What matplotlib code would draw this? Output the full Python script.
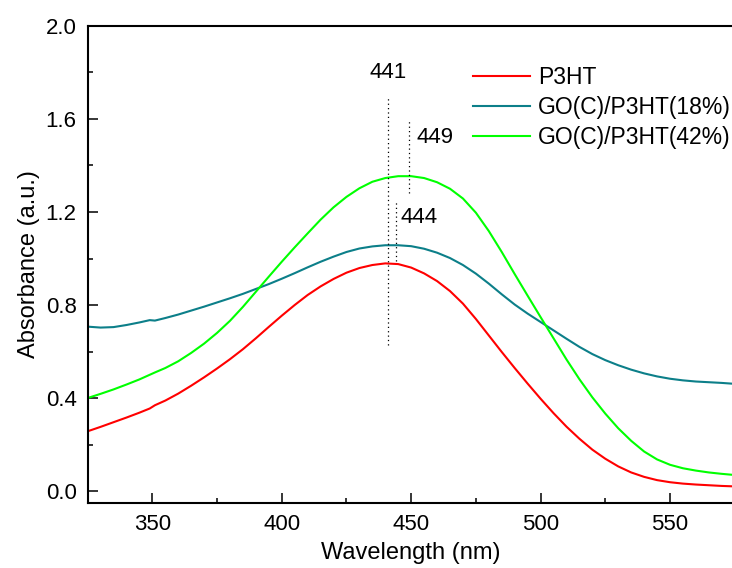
import numpy as np
import matplotlib.pyplot as plt

plt.rcParams['font.family'] = ['Liberation Sans', 'DejaVu Sans']

# Dane (co 5 nm, z malym skokiem przy 350 nm)
wavelength = [325, 330, 335, 340, 345, 349, 351, 355, 360, 365, 370, 375, 380, 385,
              390, 395, 400, 405, 410, 415, 420, 425, 430, 435, 440, 445, 450, 455,
              460, 465, 470, 475, 480, 485, 490, 495, 500, 505, 510, 515, 520, 525,
              530, 535, 540, 545, 550, 555, 560, 565, 570, 575]

p3ht = [0.257, 0.276, 0.296, 0.316, 0.337, 0.355, 0.369, 0.389, 0.419, 0.453, 0.489,
        0.527, 0.567, 0.610, 0.657, 0.706, 0.754, 0.800, 0.843, 0.880, 0.912, 0.939,
        0.959, 0.972, 0.979, 0.976, 0.961, 0.936, 0.903, 0.860, 0.806, 0.740, 0.669,
        0.598, 0.529, 0.462, 0.397, 0.335, 0.277, 0.225, 0.178, 0.139, 0.106, 0.080,
        0.061, 0.047, 0.038, 0.032, 0.028, 0.025, 0.022, 0.020]

go18 = [0.707, 0.703, 0.705, 0.714, 0.725, 0.735, 0.733, 0.744, 0.759, 0.776, 0.793,
        0.811, 0.829, 0.848, 0.869, 0.890, 0.913, 0.937, 0.962, 0.986, 1.008, 1.028,
        1.043, 1.052, 1.057, 1.057, 1.053, 1.042, 1.025, 1.002, 0.972, 0.935, 0.892,
        0.846, 0.802, 0.763, 0.727, 0.691, 0.655, 0.620, 0.589, 0.563, 0.541, 0.522,
        0.506, 0.493, 0.483, 0.476, 0.471, 0.468, 0.465, 0.461]

go42 = [0.400, 0.418, 0.437, 0.458, 0.480, 0.500, 0.510, 0.529, 0.558, 0.594, 0.634,
        0.680, 0.732, 0.792, 0.857, 0.922, 0.986, 1.048, 1.108, 1.167, 1.220, 1.265,
        1.302, 1.330, 1.346, 1.354, 1.354, 1.346, 1.328, 1.300, 1.258, 1.197, 1.118,
        1.028, 0.933, 0.840, 0.748, 0.657, 0.566, 0.481, 0.403, 0.333, 0.270, 0.216,
        0.170, 0.136, 0.113, 0.098, 0.088, 0.080, 0.074, 0.069]

labels = ["P3HT", "GO(C)/P3HT(18%)", "GO(C)/P3HT(42%)"]
colors = ["#ff0000", "#0c7f89", "#00ff00"]

# Maksima pasm: polozenie, zakres linii kropkowanej, polozenie napisu
peaks = [441, 449, 444]
peak_lines = [(0.63, 1.70), (1.28, 1.60), (0.99, 1.25)]
peak_text = [(441, 1.80, 'center'), (452, 1.52, 'left'), (446, 1.175, 'left')]

fig = plt.figure(figsize=(7.32, 5.68), dpi=100)
ax = fig.add_axes([0.1197, 0.1150, 0.8840, 0.8393])

for y, lab, c in zip([p3ht, go18, go42], labels, colors):
    ax.plot(wavelength, y, color=c, lw=1.5, label=lab)

for p, (y0, y1), (tx, ty, ha) in zip(peaks, peak_lines, peak_text):
    ax.plot([p, p], [y0, y1], color='black', lw=0.9, linestyle=(0, (1, 2.5)))
    ax.text(tx, ty, str(p), fontsize=16, ha=ha, va='center')

ax.set_xlim(325, 575)
ax.set_ylim(-0.05, 2.0)
ax.set_xticks([350, 400, 450, 500, 550])
ax.set_xticks(np.arange(375, 576, 50), minor=True)
ax.set_yticks([0.0, 0.4, 0.8, 1.2, 1.6, 2.0])
ax.set_yticks(np.arange(0.0, 2.01, 0.2), minor=True)
ax.yaxis.set_major_formatter(plt.FormatStrFormatter('%.1f'))

ax.tick_params(which='both', direction='in', width=1.1, labelsize=16)
ax.tick_params(which='major', length=7)
ax.tick_params(which='minor', length=3.5)
ax.tick_params(axis='x', pad=8)
ax.tick_params(axis='y', pad=8)
for s in ax.spines.values():
    s.set_linewidth(1.5)

ax.set_xlabel("Wavelength (nm)", fontsize=17, labelpad=5)
ax.set_ylabel("Absorbance (a.u.)", fontsize=17, labelpad=4)

ax.legend(loc='upper left', bbox_to_anchor=(0.5954, 0.916), frameon=False,
          fontsize=16.5, handlelength=2.5, handletextpad=0.35, labelspacing=0.3,
          borderpad=0, borderaxespad=0)

fig.savefig("out.png", dpi=100)
